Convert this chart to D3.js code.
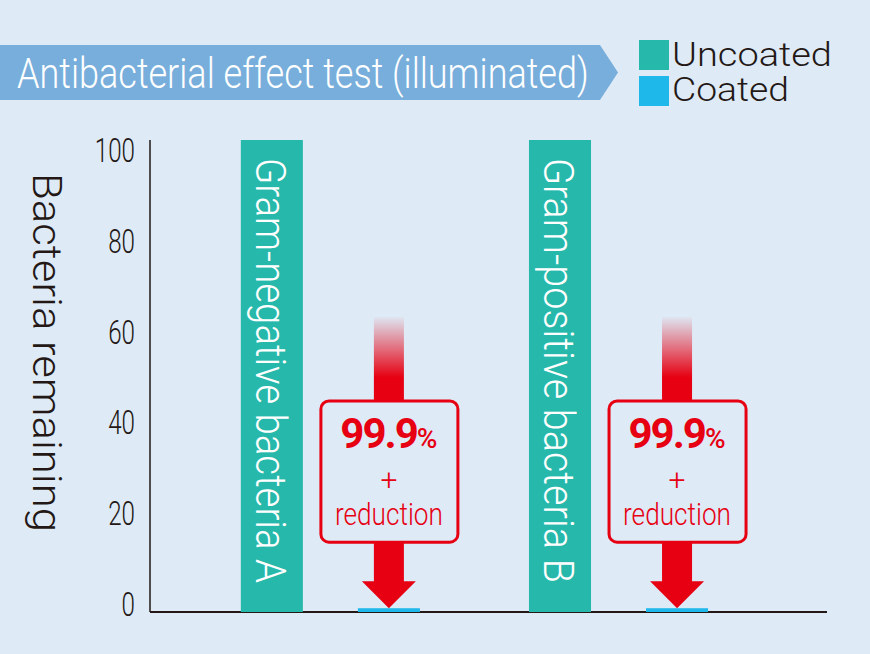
<!DOCTYPE html>
<html>
<head>
<meta charset="utf-8">
<script src="https://cdn.jsdelivr.net/npm/d3@7"></script>
<style>
  html, body { margin: 0; padding: 0; background: #deeaf6; }
  svg { display: block; }
</style>
</head>
<body>
<svg id="chart" width="870" height="654"></svg>
<script>
// ---- data ----
const title = "Antibacterial effect test (illuminated)";
const groups = ["Gram-negative bacteria A", "Gram-positive bacteria B"];
const series = ["Uncoated", "Coated"];
const uncoatedValues = [100, 100];
const coatedValues = [0.8, 0.8];
const yTicks = [0, 20, 40, 60, 80, 100];
const yAxisTitle = "Bacteria remaining";
const reductionPct = "99.9";
const reductionLines = ["+", "reduction"];
const arrowStart = 62.5;           // value where the arrow's fade begins
const boxRange = [44.7, 14.8];     // value range of the annotation box

const colors = { Uncoated: "#26b8aa", Coated: "#1fb8eb" };
const bg = "#deeaf6", red = "#e60012", ink = "#231815";

const svg = d3.select("#chart");
svg.append("rect").attr("width", 870).attr("height", 654).attr("fill", bg);

// ---- scales ----
const y = d3.scaleLinear().domain([0, 100]).range([612, 140]);
const yLab = d3.scaleLinear().domain([0, 100]).range([604, 150]);
const x0 = d3.scaleBand().domain(groups).range([150, 827])
  .paddingInner(109 / 288).paddingOuter(0.364).align(0.433);
const x1 = d3.scaleBand().domain(series).range([0, x0.bandwidth()])
  .paddingInner(0.47).paddingOuter(0);

const font = "Roboto, 'Open Sans', sans-serif";

// place a text at (x,y), optionally rotated, horizontally scaled to width w
function fitText(parent, str, x, yy, w, rot, attrs) {
  const t = parent.append("text").attr("x", 0).attr("y", 0).text(str);
  Object.entries(attrs).forEach(([k, v]) => t.attr(k, v));
  const len = t.node().getComputedTextLength();
  const k = len > 0 ? w / len : 1;
  t.attr("transform", `translate(${x},${yy}) rotate(${rot || 0}) scale(${k},1)`);
  return t;
}

// ---- banner ----
svg.append("path")
  .attr("d", "M0,45 L600,45 L618,72.5 L600,100 L0,100 Z")
  .attr("fill", "#78aedb");
fitText(svg, title, 17, 88, 572, 0, {
  fill: "#fff", "font-family": font, "font-weight": 300, "font-size": 43 });

// ---- legend ----
const leg = svg.append("g");
series.forEach((s, i) => {
  leg.append("rect").attr("x", 639).attr("y", 40 + i * 36)
    .attr("width", 30).attr("height", 30).attr("fill", colors[s]);
  fitText(leg, s, 672, 66 + i * 35, s === "Uncoated" ? 160 : 117, 0, {
    fill: ink, "font-family": font, "font-weight": 300, "font-size": 33 });
});

// ---- axes ----
svg.append("line").attr("x1", 150).attr("x2", 150)
  .attr("y1", y(100)).attr("y2", y(0))
  .attr("stroke", ink).attr("stroke-width", 1.5);
svg.append("line").attr("x1", 150).attr("x2", 827)
  .attr("y1", y(0)).attr("y2", y(0))
  .attr("stroke", ink).attr("stroke-width", 2);

const tickG = svg.append("g");
yTicks.forEach(v => {
  const w = String(v).length * 13.4;
  fitText(tickG, String(v), 135 - w, yLab(v) + 12, w, 0, {
    fill: ink, "font-family": font, "font-weight": 300, "font-size": 34 });
});

fitText(svg, yAxisTitle, 33, 173, 359, 90, {
  fill: ink, "font-family": font, "font-weight": 300, "font-size": 41 });

// ---- bars ----
const rows = groups.map((g, i) => ({ group: g, Uncoated: uncoatedValues[i], Coated: coatedValues[i] }));
const gBars = svg.append("g").selectAll("g").data(rows).join("g")
  .attr("transform", d => `translate(${x0(d.group)},0)`);
gBars.selectAll("rect").data(d => series.map(s => ({ s, v: d[s] }))).join("rect")
  .attr("x", d => x1(d.s)).attr("width", x1.bandwidth())
  .attr("y", d => y(d.v)).attr("height", d => y(0) - y(d.v))
  .attr("fill", d => colors[d.s]);

// bar labels (rotated inside uncoated bars)
gBars.each(function (d) {
  fitText(d3.select(this), d.group, x1("Uncoated") + 15, 158, 425, 90, {
    fill: "#fff", "font-family": font, "font-weight": 300, "font-size": 43 });
});

// ---- reduction arrows ----
const defs = svg.append("defs");
const grad = defs.append("linearGradient").attr("id", "fade")
  .attr("x1", 0).attr("x2", 0).attr("y1", 0).attr("y2", 1);
grad.append("stop").attr("offset", "0%").attr("stop-color", red).attr("stop-opacity", 0.02);
grad.append("stop").attr("offset", "72%").attr("stop-color", red).attr("stop-opacity", 1);
grad.append("stop").attr("offset", "100%").attr("stop-color", red).attr("stop-opacity", 1);

rows.forEach(d => {
  const cx = x0(d.group) + x1("Coated") + x1.bandwidth() / 2;
  const tipY = y(d.Coated);
  const headTop = tipY - 27;
  const g = svg.append("g");
  // faded upper shaft
  g.append("rect").attr("x", cx - 15).attr("width", 30)
    .attr("y", y(arrowStart)).attr("height", y(boxRange[0]) - y(arrowStart))
    .attr("fill", "url(#fade)");
  // lower shaft
  g.append("rect").attr("x", cx - 15).attr("width", 30)
    .attr("y", y(boxRange[1])).attr("height", headTop - y(boxRange[1]) + 1)
    .attr("fill", red);
  // head
  g.append("path")
    .attr("d", `M${cx - 27},${headTop} L${cx + 27},${headTop} L${cx},${tipY} Z`)
    .attr("fill", red);
  // box
  g.append("rect").attr("x", cx - 68).attr("width", 137)
    .attr("y", y(boxRange[0])).attr("height", y(boxRange[1]) - y(boxRange[0]))
    .attr("rx", 8).attr("ry", 8)
    .attr("fill", bg).attr("stroke", red).attr("stroke-width", 3);
  const t = g.append("text").attr("x", cx).attr("y", 448)
    .attr("text-anchor", "middle").attr("fill", red)
    .attr("font-family", font);
  t.append("tspan").attr("font-weight", 700).attr("font-size", 42)
    .attr("letter-spacing", -2).text(reductionPct);
  t.append("tspan").attr("font-weight", 500).attr("font-size", 28).text("%");
  g.append("text").attr("x", cx).attr("y", 490)
    .attr("text-anchor", "middle").attr("fill", red)
    .attr("font-family", font).attr("font-weight", 300).attr("font-size", 30)
    .text(reductionLines[0]);
  fitText(g, reductionLines[1], cx - 54, 525, 108, 0, {
    fill: red, "font-family": font, "font-weight": 300, "font-size": 32 });
});
</script>
</body>
</html>
